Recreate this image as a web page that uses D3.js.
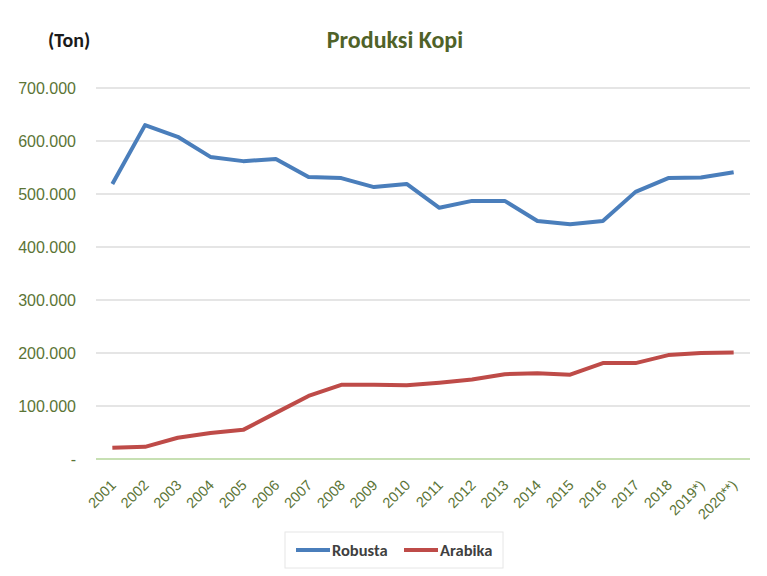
<!DOCTYPE html>
<html>
<head>
<meta charset="utf-8">
<script src="https://cdn.jsdelivr.net/npm/d3@7.9.0/dist/d3.min.js"></script>
<style>
  body { margin: 0; background: #fff; }
  svg { font-family: Carlito, "Liberation Sans", Arial, sans-serif; }
</style>
</head>
<body>
<svg id="chart" width="767" height="576"></svg>
<script>
const years = ['2001', '2002', '2003', '2004', '2005', '2006', '2007', '2008', '2009', '2010',
    '2011', '2012', '2013', '2014', '2015', '2016', '2017', '2018', '2019*)', '2020**)'];
const robusta = [519, 630, 608, 570, 562, 566, 532, 530, 513, 519,
    474, 487, 487, 449, 443, 449, 504, 530, 531, 541].map(v => v * 1000);
const arabika = [21, 23, 40, 49, 55, 87, 119, 140, 140, 139,
    144, 150, 160, 162, 159, 181, 181, 196, 200, 201].map(v => v * 1000);
const yTicks = [0, 100000, 200000, 300000, 400000, 500000, 600000, 700000];

const series = [
    { name: 'Robusta', values: robusta, color: '#4a7ebb' },
    { name: 'Arabika', values: arabika, color: '#be4b48' }
];

const svg = d3.select('#chart');
const margin = { left: 96, right: 17, top: 88, bottom: 117 };
const width = 767 - margin.left - margin.right;
const height = 576 - margin.top - margin.bottom;

const x = d3.scalePoint().domain(years).range([0, width]).padding(0.5);
const y = d3.scaleLinear().domain([0, 700000]).range([height, 0]);

const g = svg.append('g').attr('transform', `translate(${margin.left},${margin.top})`);

// gridlines
g.selectAll('.grid')
    .data(yTicks.filter(d => d > 0))
    .join('line')
    .attr('x1', 0).attr('x2', width)
    .attr('y1', d => y(d)).attr('y2', d => y(d))
    .attr('stroke', '#dcdcdc').attr('stroke-width', 1.5);

// baseline
g.append('line')
    .attr('x1', 0).attr('x2', width)
    .attr('y1', y(0)).attr('y2', y(0))
    .attr('stroke', '#b5d69a').attr('stroke-width', 1.5);

const fmt = v => v === 0 ? '-' : d3.format(',')(v).replace(/,/g, '.');

const yAxis = g.append('g')
    .call(d3.axisLeft(y).tickValues(yTicks).tickSize(0).tickPadding(20).tickFormat(fmt));
yAxis.select('.domain').remove();
yAxis.selectAll('text')
    .attr('fill', '#5b7436')
    .style('font-size', '16px');

const xAxis = g.append('g')
    .attr('transform', `translate(0,${height})`)
    .call(d3.axisBottom(x).tickSize(0));
xAxis.select('.domain').remove();
xAxis.selectAll('text')
    .attr('fill', '#5b7436')
    .style('font-size', '14.5px')
    .attr('text-anchor', 'end')
    .attr('dy', 0)
    .attr('transform', 'translate(2,25) rotate(-45)');

const line = d3.line()
    .x((d, i) => x(years[i]))
    .y(d => y(d));

g.selectAll('.series')
    .data(series)
    .join('path')
    .attr('d', d => line(d.values))
    .attr('fill', 'none')
    .attr('stroke', d => d.color)
    .attr('stroke-width', 4)
    .attr('stroke-linejoin', 'round');

// titles
svg.append('text')
    .attr('x', 395).attr('y', 48)
    .attr('text-anchor', 'middle')
    .attr('fill', '#4f6228')
    .style('font-size', '24px').style('font-weight', 'bold')
    .text('Produksi Kopi');

svg.append('text')
    .attr('x', 48).attr('y', 47)
    .attr('fill', '#1a1a1a')
    .style('font-size', '20px').style('font-weight', 'bold')
    .text('(Ton)');

// legend
const legend = svg.append('g').attr('transform', 'translate(285,532)');
legend.append('rect')
    .attr('width', 218).attr('height', 36)
    .attr('fill', '#fff').attr('stroke', '#e6e6e6');
const items = legend.selectAll('.item')
    .data(series)
    .join('g')
    .attr('transform', (d, i) => `translate(${11 + i * 108},18)`);
items.append('line')
    .attr('x1', 0).attr('x2', 34)
    .attr('stroke', d => d.color).attr('stroke-width', 4);
items.append('text')
    .attr('x', 36).attr('dy', '0.35em')
    .attr('fill', '#404040')
    .style('font-size', '16.5px').style('font-weight', 'bold')
    .text(d => d.name);
</script>
</body>
</html>
